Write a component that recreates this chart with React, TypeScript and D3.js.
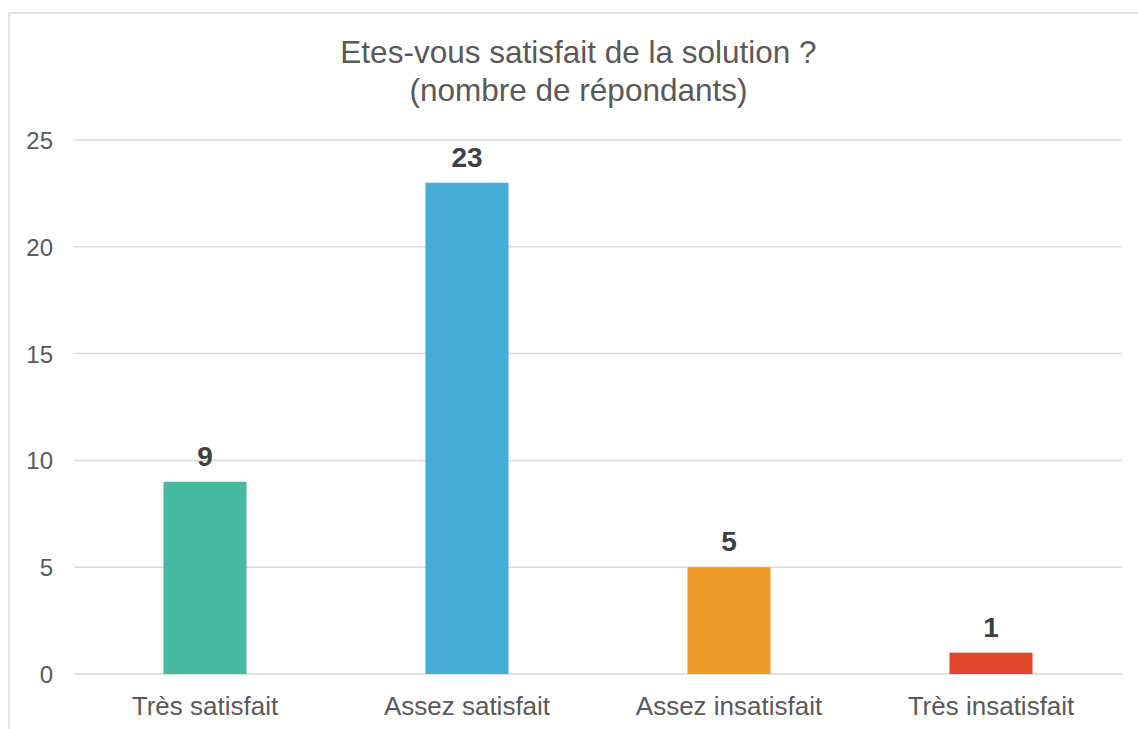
import React from "react";
import * as d3 from "d3";

const categories = ["Très satisfait", "Assez satisfait", "Assez insatisfait", "Très insatisfait"];
const values = [9, 23, 5, 1];
const colors = ["#47B9A0", "#45ADD6", "#EE9C27", "#E2472B"];
const yTicks = [0, 5, 10, 15, 20, 25];
const titleLines = ["Etes-vous satisfait de la solution ?", "(nombre de répondants)"];

const W = 1138;
const H = 729;
const FONT = "'Liberation Sans', Arial, sans-serif";

export default function App() {
  const plotLeft = 74;
  const plotRight = 1122;
  const y0 = 674;
  const yTop = 140;

  const x = d3
    .scaleBand<string>()
    .domain(categories)
    .range([plotLeft, plotRight])
    .paddingInner(0.683)
    .paddingOuter(0.3415);
  const y = d3.scaleLinear().domain([0, 25]).range([y0, yTop]);

  return (
    <svg
      width={W}
      height={H}
      style={{ position: "absolute", left: 0, top: 0, background: "#fff" }}
      fontFamily={FONT}
    >
      <rect x={0} y={0} width={W} height={H} fill="#fff" />
      <rect x={9} y={13} width={1200} height={800} fill="none" stroke="#d9d9d9" strokeWidth={1.5} />
      {titleLines.map((t, i) => (
        <text
          key={i}
          x={578.5}
          y={63 + i * 38}
          textAnchor="middle"
          fontSize={31.5}
          fill="#595959"
        >
          {t}
        </text>
      ))}
      {yTicks.map((t) => (
        <g key={t}>
          <line
            x1={plotLeft}
            x2={plotRight}
            y1={y(t)}
            y2={y(t)}
            stroke="#d9d9d9"
            strokeWidth={1.5}
          />
          <text x={53} y={y(t) + 9} textAnchor="end" fontSize={24} fill="#595959">
            {t}
          </text>
        </g>
      ))}
      {categories.map((c, i) => (
        <g key={c}>
          <rect
            x={x(c)!}
            y={y(values[i])}
            width={x.bandwidth()}
            height={y0 - y(values[i])}
            fill={colors[i]}
          />
          <text
            x={x(c)! + x.bandwidth() / 2}
            y={y(values[i]) - 16}
            textAnchor="middle"
            fontSize={28}
            fontWeight="bold"
            fill="#404040"
          >
            {values[i]}
          </text>
          <text
            x={x(c)! + x.bandwidth() / 2}
            y={715}
            textAnchor="middle"
            fontSize={26}
            fill="#595959"
          >
            {c}
          </text>
        </g>
      ))}
    </svg>
  );
}
